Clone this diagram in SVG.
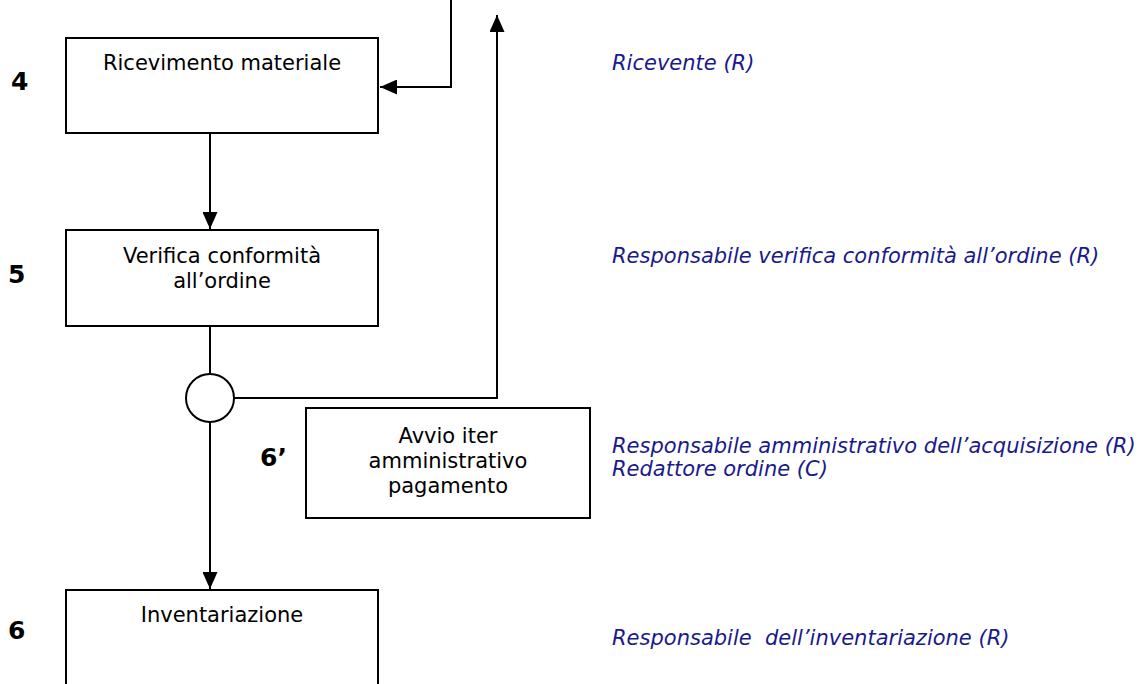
<svg xmlns="http://www.w3.org/2000/svg" width="1148" height="684" viewBox="0 0 1148 684">
  <style>
    .box { fill: #fff; stroke: #000; stroke-width: 2; }
    .lbl { font-family: "DejaVu Sans", Verdana, sans-serif; font-size: 21px; fill: #000; text-anchor: middle; }
    .num { font-family: "DejaVu Sans", Verdana, sans-serif; font-size: 25px; font-weight: bold; fill: #000; }
    .role { font-family: "DejaVu Sans", Verdana, sans-serif; font-size: 21px; font-style: italic; fill: #1a1a8c; }
    .wire { fill: none; stroke: #000; stroke-width: 2; }
  </style>
  <defs>
    <marker id="arrowL" viewBox="0 0 17 15" refX="17" refY="7.5" markerWidth="17" markerHeight="15" markerUnits="userSpaceOnUse" orient="auto">
      <path d="M0,0 L17,7.5 L0,15 Z" fill="#000"/>
    </marker>
  </defs>
  <rect width="1148" height="684" fill="#fff"/>

  <g id="connectors">
    <path class="wire" d="M451,0 V87 H380" marker-end="url(#arrowL)"/>
    <path class="wire" d="M210,133 V229" marker-end="url(#arrowL)"/>
    <path class="wire" d="M210,326 V374"/>
    <path class="wire" d="M234,398 H497 V15" marker-end="url(#arrowL)"/>
    <path class="wire" d="M210,422 V589" marker-end="url(#arrowL)"/>
  </g>

  <g id="step4">
    <rect class="box" x="66" y="38" width="312" height="95"/>
    <text class="lbl" x="222" y="70">Ricevimento materiale</text>
    <text class="num" x="11" y="90">4</text>
    <text class="role" x="612" y="70">Ricevente (R)</text>
  </g>

  <g id="step5">
    <rect class="box" x="66" y="230" width="312" height="96"/>
    <text class="lbl" x="222" y="263">Verifica conformità</text>
    <text class="lbl" x="222" y="288">all’ordine</text>
    <text class="num" x="8" y="283">5</text>
    <text class="role" x="612" y="263">Responsabile verifica conformità all’ordine (R)</text>
  </g>

  <g id="decision">
    <circle cx="210" cy="398" r="24" fill="#fff" stroke="#000" stroke-width="2"/>
  </g>

  <g id="step6b">
    <rect class="box" x="306" y="408" width="284" height="110"/>
    <text class="lbl" x="448" y="443">Avvio iter</text>
    <text class="lbl" x="448" y="468">amministrativo</text>
    <text class="lbl" x="448" y="493">pagamento</text>
    <text class="num" x="260" y="466">6’</text>
    <text class="role" x="612" y="453">Responsabile amministrativo dell’acquisizione (R)</text>
    <text class="role" x="612" y="476">Redattore ordine (C)</text>
  </g>

  <g id="step6">
    <rect class="box" x="66" y="590" width="312" height="110"/>
    <text class="lbl" x="222" y="622">Inventariazione</text>
    <text class="num" x="8" y="639">6</text>
    <text class="role" x="612" y="645" xml:space="preserve">Responsabile  dell’inventariazione (R)</text>
  </g>
</svg>
